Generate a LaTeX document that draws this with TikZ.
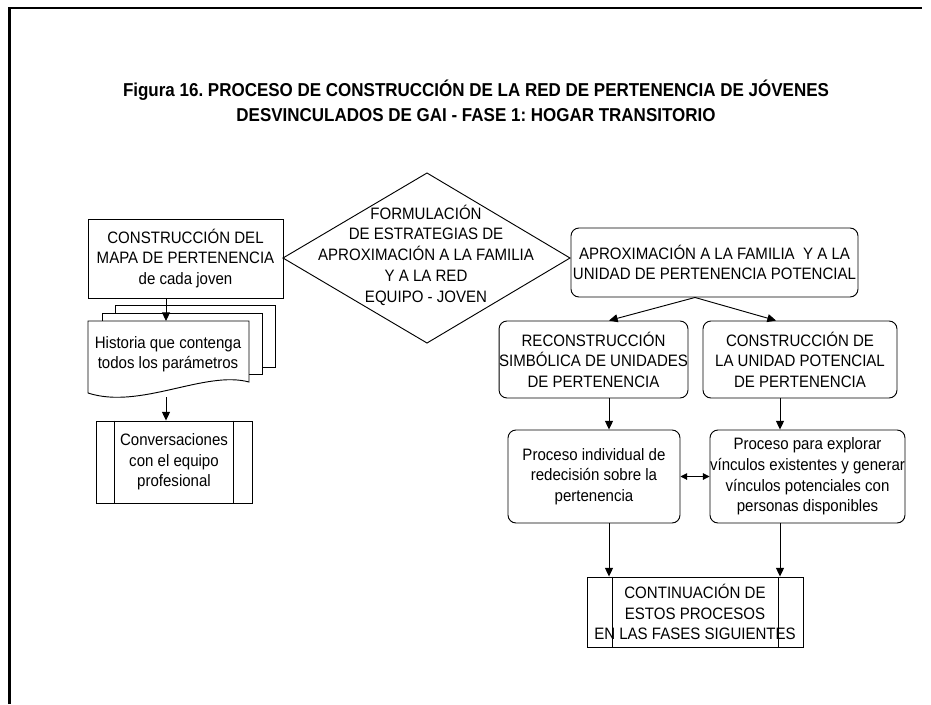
\documentclass[tikz,border=0pt]{standalone}
\usepackage{fontspec}
\setmainfont{Liberation Sans}[FakeStretch=0.91]
\usetikzlibrary{arrows.meta,calc}
\frenchspacing
\begin{document}
\begin{tikzpicture}[x=0.75pt,y=-0.75pt,
  line/.style={line width=0.7pt,draw=black},
  txt/.style={font=\fontsize{12.4pt}{15.4pt}\selectfont,align=center,inner sep=0pt},
  sz/.style 2 args={minimum width=#1*0.75pt,minimum height=#2*0.75pt},
  box/.style={txt,line},
  rbox/.style={txt,line,rounded corners=6pt},
  arr/.style={line,-{Triangle[length=6.5pt,width=6pt]}},
  darr/.style={line,{Triangle[length=5pt,width=5pt]}-{Triangle[length=5pt,width=5pt]}}]
\useasboundingbox (0,0) rectangle (931,704);
% frame
\draw[line width=1.6pt] (9.5,704) -- (9.5,8) -- (922,8);
% title
\node[font=\fontsize{14pt}{18.75pt}\selectfont\bfseries,align=center,inner sep=0pt] (title) at (476,101)
 {Figura 16. PROCESO DE CONSTRUCCIÓN DE LA RED DE PERTENENCIA DE JÓVENES\\DESVINCULADOS DE GAI - FASE 1: HOGAR TRANSITORIO};
% left column
\node[box,sz={195}{79}] (mapa) at (185.5,258.5) {CONSTRUCCIÓN DEL\\MAPA DE PERTENENCIA\\de cada joven};
\filldraw[line,fill=white] (115,305) rectangle (275,367);
\filldraw[line,fill=white] (102,313) rectangle (262,374);
\filldraw[line,fill=white] (88,321) -- (249,321) -- (249,382) .. controls (205,370) and (140,410) .. (88,393) -- cycle;
\node[txt] (hist) at (168,354) {Historia que contenga\\todos los parámetros};
\coordinate (hA) at (166,321);
\coordinate (hB) at (166,397);
\node[box,sz={156}{82}] (conv) at (174,462) {Conversaciones\\con el equipo\\profesional};
\draw[line] ($(conv.north west)+(19,0)$) -- ($(conv.south west)+(19,0)$);
\draw[line] ($(conv.north east)+(-19,0)$) -- ($(conv.south east)+(-19,0)$);
\draw[arr] (mapa.south -| hA) -- (hA);
\draw[arr] (hB) -- (conv.north -| hB);
% diamond
\draw[line] (283,258) -- (427,173) -- (570,258) -- (427,343) -- cycle;
\node[txt,font=\fontsize{12.4pt}{15.6pt}\selectfont] (form) at (426,255) {FORMULACIÓN\\DE ESTRATEGIAS DE\\APROXIMACIÓN A LA FAMILIA\\Y A LA RED\\EQUIPO - JOVEN};
% right part
\node[rbox,sz={287}{69}] (aprox) at (714.5,262.5) {APROXIMACIÓN A LA FAMILIA\ \ Y A LA\\UNIDAD DE PERTENENCIA POTENCIAL};
\node[rbox,sz={187}{77}] (recon) at (593.5,359.5) {RECONSTRUCCIÓN\\SIMBÓLICA DE UNIDADES\\DE PERTENENCIA};
\node[rbox,sz={194}{77}] (cunid) at (800,359.5) {CONSTRUCCIÓN DE\\LA UNIDAD POTENCIAL\\DE PERTENENCIA};
\node[rbox,sz={172}{93}] (indiv) at (594,476.5) {Proceso individual de\\redecisión sobre la\\pertenencia};
\node[rbox,sz={195}{93},font=\fontsize{12.4pt}{15.6pt}\selectfont] (explo) at (807.5,476.5) {Proceso para explorar\\vínculos existentes y generar\\vínculos potenciales con\\personas disponibles};
\node[box,sz={216}{70}] (cont) at (695,612) {CONTINUACIÓN DE\\ESTOS PROCESOS\\EN LAS FASES SIGUIENTES};
\draw[line] ($(cont.north west)+(26,0)$) -- ($(cont.south west)+(26,0)$);
\draw[line] ($(cont.north east)+(-25,0)$) -- ($(cont.south east)+(-25,0)$);
\coordinate (lx) at (609,0);
\coordinate (rx) at (780,0);
\draw[arr] (aprox.south -| cont.north) -- (recon.north -| lx);
\draw[arr] (aprox.south -| cont.north) -- ($(cunid.north -| rx)+(-4,0)$);
\draw[arr] (recon.south -| lx) -- (indiv.north -| lx);
\draw[arr] (cunid.south -| rx) -- (explo.north -| rx);
\draw[arr] (indiv.south -| lx) -- (cont.north -| lx);
\draw[arr] (explo.south -| rx) -- (cont.north -| rx);
\draw[darr] (indiv.east) -- (explo.west);
\end{tikzpicture}
\end{document}
